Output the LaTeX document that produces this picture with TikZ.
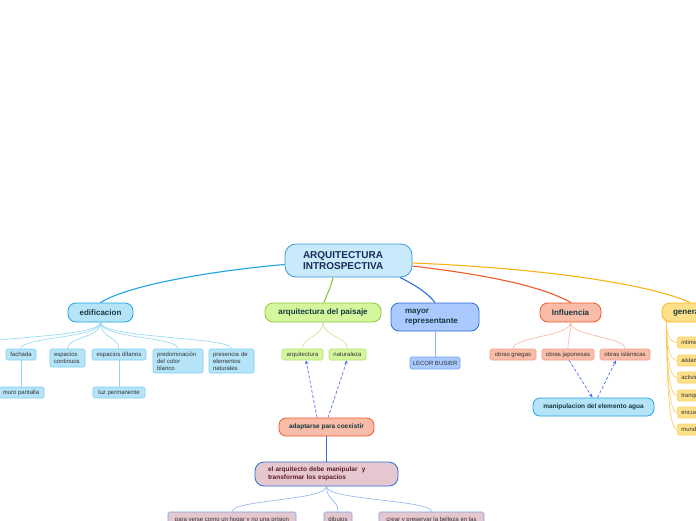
\documentclass[tikz,border=0pt]{standalone}
\usepackage{fontspec}
\setmainfont{Liberation Sans}
\usetikzlibrary{calc,arrows.meta}
\definecolor{cyfill}{HTML}{B5E4F9}
\definecolor{cyline}{HTML}{1EA5E0}
\definecolor{cyleaf}{HTML}{7FD0F2}
\definecolor{cyconn}{HTML}{8ED5F5}
\definecolor{cenfill}{HTML}{C8EAFB}
\definecolor{cenline}{HTML}{3D9AD6}
\definecolor{grfill}{HTML}{D6F69E}
\definecolor{grline}{HTML}{8DC63F}
\definecolor{grleaf}{HTML}{B7E070}
\definecolor{grconn}{HTML}{C5E690}
\definecolor{blfill}{HTML}{A9C9FF}
\definecolor{blline}{HTML}{2F6FD6}
\definecolor{blleaf}{HTML}{74A2EA}
\definecolor{blconn}{HTML}{8FB2EE}
\definecolor{orfill}{HTML}{F9BCA8}
\definecolor{orline}{HTML}{F05A28}
\definecolor{orleaf}{HTML}{F4A08A}
\definecolor{orconn}{HTML}{F7B4A0}
\definecolor{yefill}{HTML}{FFE08A}
\definecolor{yeline}{HTML}{F8B415}
\definecolor{yeleaf}{HTML}{FCD060}
\definecolor{pkfill}{HTML}{E6C7CF}
\definecolor{maintext}{HTML}{17393F}
\definecolor{centext}{HTML}{1B2A5A}
\definecolor{leaftext}{HTML}{333333}
\definecolor{marotext}{HTML}{5A1F2A}
\definecolor{dasharrow}{HTML}{4D6EF5}
\tikzset{
  box/.style={draw, inner sep=0pt, minimum height=19pt},
  mainbox/.style={box, rounded corners=8pt, line width=0.8pt,
    font=\bfseries\fontsize{8}{10}\selectfont, text=maintext},
  leaf/.style={draw, inner sep=0pt, rounded corners=1.5pt, line width=0.6pt,
    minimum height=11pt, font=\fontsize{6}{7}\selectfont, text=leaftext},
  cyleafbox/.style={leaf, fill=cyfill, draw=cyleaf},
  grleafbox/.style={leaf, fill=grfill, draw=grleaf},
  blleafbox/.style={leaf, fill=blfill, draw=blleaf},
  orleafbox/.style={leaf, fill=orfill, draw=orleaf},
  yeleafbox/.style={leaf, fill=yefill, draw=yeleaf, anchor=west, minimum width=60pt,
    text width=52pt, align=left, inner xsep=4pt},
  pkleafbox/.style={leaf, fill=pkfill, draw=blleaf, minimum height=16pt},
  conn/.style={line width=0.6pt},
  thickconn/.style={line width=1.2pt},
  dasharr/.style={dashed, dash pattern=on 3pt off 2pt, line width=0.7pt, draw=dasharrow,
    -{Stealth[length=4pt,width=3.5pt]}},
}
\begin{document}
\begin{tikzpicture}[x=1pt,y=-1pt]
\useasboundingbox (0,0) rectangle (696,520);
\clip (0,0) rectangle (696,520);
\fill[white] (0,0) rectangle (696,520);

% central node
\node[draw=cenline, fill=cenfill, line width=0.8pt, rounded corners=11pt, inner ysep=0pt,
  minimum width=127pt, minimum height=33pt, text width=91pt, inner xsep=18pt, align=left,
  font=\bfseries\fontsize{10}{11.5}\selectfont, text=centext] (c) at (348.5,260.5)
  {ARQUITECTURA\\INTROSPECTIVA};

% main branches
\node[mainbox, fill=cyfill, draw=cyline, minimum width=65pt] (ed) at (100.5,312.5) {edificacion};
\node[mainbox, fill=grfill, draw=grline, minimum width=116pt] (pa) at (323,312.5) {arquitectura del paisaje};
\node[mainbox, fill=blfill, draw=blline, minimum height=28pt, text width=60pt, inner xsep=14pt,
  align=left, font=\bfseries\fontsize{8}{10}\selectfont] (may) at (435,317) {mayor\\representante};
\node[mainbox, fill=orfill, draw=orline, minimum width=61pt] (inf) at (570.5,312.5) {Influencia};
\node[mainbox, fill=yefill, draw=yeline, minimum width=76pt] (gen) at (700,312.5) {generalidades};

% connectors from centre
\draw[conn, line width=1.1pt, draw=cyline] ($(c.west)+(0,4)$) .. controls (220,270) and (130,284) .. (ed.north);
\draw[conn, line width=1.1pt, draw=grline] ($(c.south)+(-15.5,0)$) .. controls (330,290) and (326,296) .. ($(pa.north)+(1,0)$);
\draw[conn, line width=1.1pt, draw=blline] ($(c.south)+(51.5,0)$) .. controls (415,285) and (428,293) .. (may.north);
\draw[conn, line width=1.1pt, draw=orline] ($(c.east)+(0,5.5)$) .. controls (480,274) and (540,285) .. ($(inf.north)+(0.5,0)$);
\draw[conn, line width=1.1pt, draw=yeline] ($(c.east)+(0,2.5)$) .. controls (540,268) and (650,284) .. ($(gen.north)+(-10,0)$);

% edificacion children
\coordinate (edoff) at (-40,349);
\node[cyleafbox, minimum width=30pt] (fa) at (21,354.5) {fachada};
\node[cyleafbox, minimum width=35pt, minimum height=18pt, text width=27pt, inner xsep=4pt, align=left] (ec) at (67.5,358) {espacios\\continuos};
\node[cyleafbox, minimum width=54pt] (edf) at (119,354.5) {espacios difanos};
\node[cyleafbox, minimum width=50pt, minimum height=24pt, text width=42pt, inner xsep=4pt, align=left] (pr) at (178,361) {predominación\\del color\\blanco};
\node[cyleafbox, minimum width=45pt, minimum height=24pt, text width=37pt, inner xsep=4pt, align=left] (pe) at (231.5,361) {presencia de\\elementos\\naturales};
\node[cyleafbox, minimum width=46pt] (mu) at (21,392.5) {muro pantalla};
\node[cyleafbox, minimum width=52pt] (lu) at (119,392.5) {luz permanente};
\foreach \t in {edoff,fa,ec,edf,pr,pe}
  \draw[conn, draw=cyconn] (ed.south) .. controls +(0,16) and +(0,-12) .. (\t.north);
\draw[conn, draw=cyconn] (fa.south) -- (mu.north);
\draw[conn, draw=cyconn] (edf.south) -- (lu.north);

% paisaje children
\node[grleafbox, minimum width=41pt] (ar) at (302.5,354.5) {arquitectura};
\node[grleafbox, minimum width=37pt] (na) at (347.5,354.5) {naturaleza};
\foreach \t in {ar,na}
  \draw[conn, draw=grconn] (pa.south) .. controls +(0,14) and +(0,-12) .. (\t.north);

% mayor representante child
\node[blleafbox, minimum width=50pt, minimum height=12pt] (lb) at (435,363) {LECOR BUSIER};
\draw[conn, draw=blconn] (may.south) -- (lb.north);

% influencia children
\node[orleafbox, minimum width=46pt] (og) at (513,354.5) {obras griegas};
\node[orleafbox, minimum width=52pt] (oj) at (568,354.5) {obras japonesas};
\node[orleafbox, minimum width=50pt] (oi) at (625,354.5) {obras islámicas};
\foreach \t in {og,oj,oi}
  \draw[conn, draw=orconn] (inf.south) .. controls +(0,14) and +(0,-12) .. (\t.north);

% manipulacion
\node[box, fill=cyfill, draw=cyline, rounded corners=7pt, line width=0.8pt, minimum width=121pt,
  minimum height=18pt, font=\bfseries\fontsize{6.5}{8}\selectfont, text=maintext] (ma) at (593.5,407)
  {manipulacion del elemento agua};
\draw[dasharr] ($(oj.south)+(1,0)$) -- ($(ma.north)+(-1,0)$);
\draw[dasharr] ($(ma.north)+(4,0)$) -- ($(oi.south)+(-9,0)$);

% adaptarse
\node[box, fill=orfill, draw=orline, rounded corners=7pt, line width=0.8pt, minimum width=95pt,
  minimum height=18pt, font=\bfseries\fontsize{6.5}{8}\selectfont, text=maintext] (ad) at (326.5,427)
  {adaptarse para coexistir};
\draw[dasharr] ($(ad.north)+(-9.5,0)$) -- ($(ar.south)+(3.5,0)$);
\draw[dasharr] ($(ad.north)+(1.5,0)$) -- ($(na.south)+(-0.5,0)$);

% el arquitecto
\node[box, fill=pkfill, draw=blline, rounded corners=9pt, line width=0.8pt, minimum width=143pt,
  minimum height=24pt, text width=117pt, inner xsep=13pt, align=left,
  font=\bfseries\fontsize{6.5}{8}\selectfont, text=marotext] (el) at (326.5,474)
  {el arquitecto debe manipular\ \ y\\transformar los espacios};
\draw[thickconn, draw=blline] (ad.south) -- (el.north);

\node[pkleafbox, minimum width=128pt] (pv) at (232,520) {para verse como un hogar y no una prision};
\node[pkleafbox, minimum width=28pt] (di) at (338,520) {dibujos};
\node[pkleafbox, minimum width=105pt] (cr) at (431.5,520) {crear y preservar la belleza en las};
\foreach \t in {pv,di,cr}
  \draw[conn, draw=blconn] (el.south) .. controls +(0,14) and +(0,-12) .. (\t.north);

% generalidades children
\node[yeleafbox] (g1) at (677,342.5) {intimidad};
\node[yeleafbox] (g2) at (677,360.5) {aislamiento};
\node[yeleafbox] (g3) at (677,377.5) {actividad};
\node[yeleafbox] (g4) at (677,395.5) {tranquilidad};
\node[yeleafbox] (g5) at (677,412.5) {encuentro};
\node[yeleafbox] (g6) at (677,429.5) {mundo};
\foreach \t/\d in {g1/20,g2/38,g3/55,g4/73,g5/90,g6/107}
  \draw[conn, draw=yeline!70] ($(gen.south west)+(5,0)$) .. controls +(0,0.55*\d) and +(-8,0) .. (\t.west);

\end{tikzpicture}
\end{document}
